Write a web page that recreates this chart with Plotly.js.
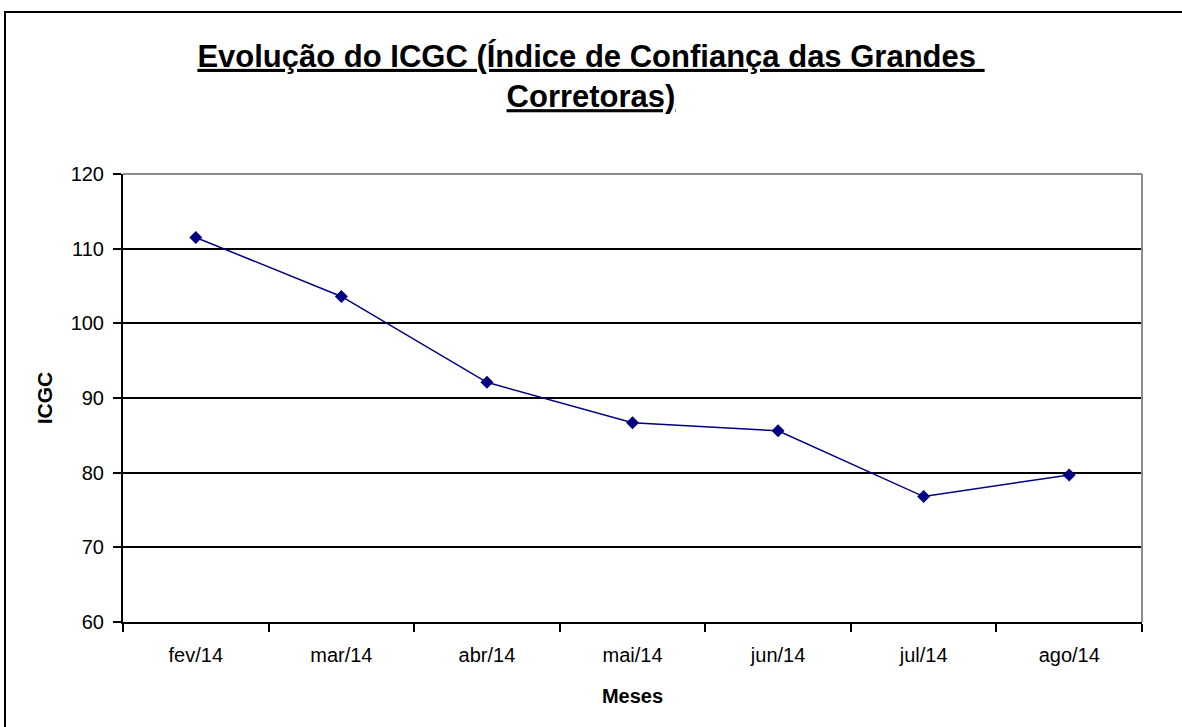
<!DOCTYPE html>
<html>
<head>
<meta charset="utf-8">
<script src="https://cdn.plot.ly/plotly-3.0.1.min.js"></script>
<style>
  html, body { margin: 0; padding: 0; background: #fff; overflow: hidden; }
  #chart { position: absolute; left: 0; top: 0; width: 1182px; height: 727px; }
  #frame { position: absolute; left: 4px; top: 11px; width: 1200px; height: 760px;
           border: 2px solid #000; box-sizing: border-box; pointer-events: none; }
</style>
</head>
<body>
<div id="chart"></div>
<div id="frame"></div>
<script>
const months = ["fev/14", "mar/14", "abr/14", "mai/14", "jun/14", "jul/14", "ago/14"];
const icgc = [111.5, 103.6, 92.1, 86.7, 85.6, 76.8, 79.7];
const yTicks = [60, 70, 80, 90, 100, 110, 120];

const trace = {
  x: months,
  y: icgc,
  type: "scatter",
  mode: "lines+markers",
  line: { color: "#000080", width: 1.5 },
  marker: { symbol: "diamond", size: 10, color: "#000080" },
  hoverinfo: "x+y",
  showlegend: false
};

const font = "Liberation Sans, Arial, sans-serif";

const layout = {
  width: 1182,
  height: 727,
  paper_bgcolor: "#ffffff",
  plot_bgcolor: "#ffffff",
  margin: { l: 123, r: 40, t: 174, b: 105 },
  font: { family: font, size: 20, color: "#000" },
  title: {
    text: "<b><u>Evolução do ICGC (Índice de Confiança das Grandes </u></b><br><b><u>Corretoras)</u></b>",
    font: { family: font, size: 31, color: "#000" },
    x: 0.5, xanchor: "center",
    y: 0.908, yanchor: "top"
  },
  xaxis: {
    type: "category",
    tickson: "boundaries",
    ticks: "outside",
    ticklen: 8,
    tickwidth: 1.5,
    tickcolor: "#000",
    ticklabelstandoff: 14,
    showline: true,
    linecolor: "#000",
    linewidth: 2,
    showgrid: false,
    zeroline: false,
    tickfont: { family: font, size: 20, color: "#000" },
    title: { text: "<b>Meses</b>", font: { family: font, size: 20, color: "#000" }, standoff: 24 },
    range: [-0.5, 6.5]
  },
  yaxis: {
    range: [60, 120],
    tickvals: yTicks,
    ticktext: yTicks.map(String),
    ticks: "outside",
    ticklen: 8,
    tickwidth: 1.5,
    tickcolor: "#000",
    ticklabelstandoff: 5,
    showline: true,
    linecolor: "#000",
    linewidth: 2,
    showgrid: true,
    gridcolor: "#000",
    gridwidth: 1.5,
    zeroline: false,
    tickfont: { family: font, size: 20, color: "#000" },
    title: { text: "<b>ICGC</b>", font: { family: font, size: 21, color: "#000" }, standoff: 12 }
  },
  shapes: [
    { type: "line", xref: "paper", yref: "paper", x0: 0, x1: 1, y0: 1, y1: 1,
      line: { color: "#8c8c8c", width: 2 }, layer: "above" },
    { type: "line", xref: "paper", yref: "paper", x0: 1, x1: 1, y0: 0, y1: 1,
      line: { color: "#8c8c8c", width: 2 }, layer: "above" }
  ]
};

Plotly.newPlot("chart", [trace], layout, { displayModeBar: false, responsive: false });
</script>
</body>
</html>
